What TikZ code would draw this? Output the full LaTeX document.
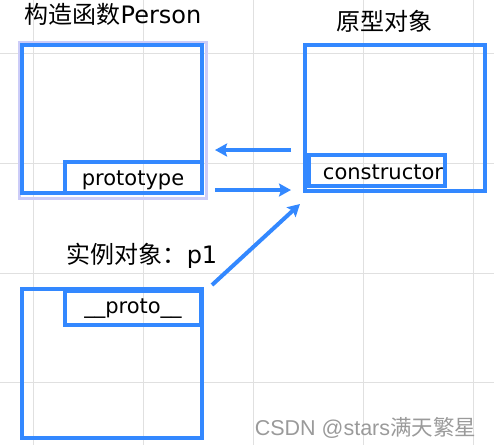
\documentclass[tikz,border=0pt]{standalone}
\usepackage{fontspec}
\setmainfont{DejaVu Sans}
\newfontfamily\cjk{Noto Sans CJK SC}
\newfontfamily\wmfont{Liberation Sans}
\usetikzlibrary{arrows.meta}
\definecolor{boxblue}{HTML}{3388FF}
\definecolor{gridgray}{HTML}{E0E0E0}
\definecolor{selpurple}{HTML}{CCCCF8}
\definecolor{wmgray}{HTML}{9A9A9A}
\tikzset{
  gridline/.style={draw=gridgray, line width=1pt},
  outerbox/.style={draw=boxblue, line width=4pt, rectangle, inner sep=0pt},
  innerbox/.style={draw=boxblue, line width=4pt, rectangle, inner sep=0pt,
    font=\fontsize{21}{25}\selectfont},
  labeltext/.style={inner sep=0pt, font=\fontsize{21}{25}\selectfont},
  titletext/.style={inner sep=0pt, anchor=base, font=\fontsize{24}{28}\selectfont},
  arr/.style={draw=boxblue, line width=4pt,
    -{Stealth[length=12pt, width=13pt, inset=2pt]}},
}
\begin{document}
\begin{tikzpicture}[x=1pt, y=-1pt]
\useasboundingbox (0,0) rectangle (494,445);
% grid
\foreach \gx in {33,143,253,363,473} \draw[gridline] (\gx,0) -- (\gx,445);
\foreach \gy in {53,163,273,382} \draw[gridline] (0,\gy) -- (494,\gy);
% selection highlight around constructor box
\node[draw=selpurple, line width=3pt, minimum width=187pt, minimum height=155.5pt, inner sep=0pt] (sel) at (113,120.25) {};
% constructor Person
\node[titletext] (t1) at (113,23) {{\cjk 构造函数}Person};
\node[outerbox, minimum width=180pt, minimum height=148pt] (b1) at (112,119) {};
\node[innerbox, minimum width=137pt, minimum height=31pt] (b1in) at (133.5,177.5) {};
\node[labeltext, anchor=base] (l1) at (133,185) {prototype};
% prototype object
\node[titletext] (t2) at (384,30.5) {\cjk 原型对象};
\node[outerbox, minimum width=180pt, minimum height=145.5pt] (b2) at (395,117.75) {};
\node[innerbox, minimum width=136pt, minimum height=30.5pt] (b2in) at (377,170.25) {};
\node[labeltext, anchor=base] (l2) at (383,179) {constructor};
% instance
\node[titletext] (t3) at (142,263) {{\cjk 实例对象：}p1};
\node[outerbox, minimum width=180pt, minimum height=148.5pt] (b3) at (112,363.25) {};
\node[innerbox, minimum width=136pt, minimum height=34pt] (b3in) at (133,308) {};
\node[labeltext, anchor=base] (l3) at (133,313) {\_\_proto\_\_};
% arrows
\draw[arr, shorten <=12pt, shorten >=11pt] ([yshift=-32.25pt]b2.west) -- ([yshift=-32.25pt]b2.west -| b1.east);
\draw[arr, shorten <=11pt, shorten >=12pt] ([yshift=-71pt]b1.east) -- ([yshift=-71pt]b1.east -| b2.west);
\draw[arr] ([shift={(8,-2)}]b3.north east) -- ([shift={(-3,11.5)}]b2.south west);
% watermark
\node[inner sep=0pt, anchor=base, text=wmgray, font=\wmfont\fontsize{21.5}{25}\selectfont] (wm) at (365.5,435) {CSDN @stars{\cjk 满天繁星}};
\end{tikzpicture}
\end{document}
